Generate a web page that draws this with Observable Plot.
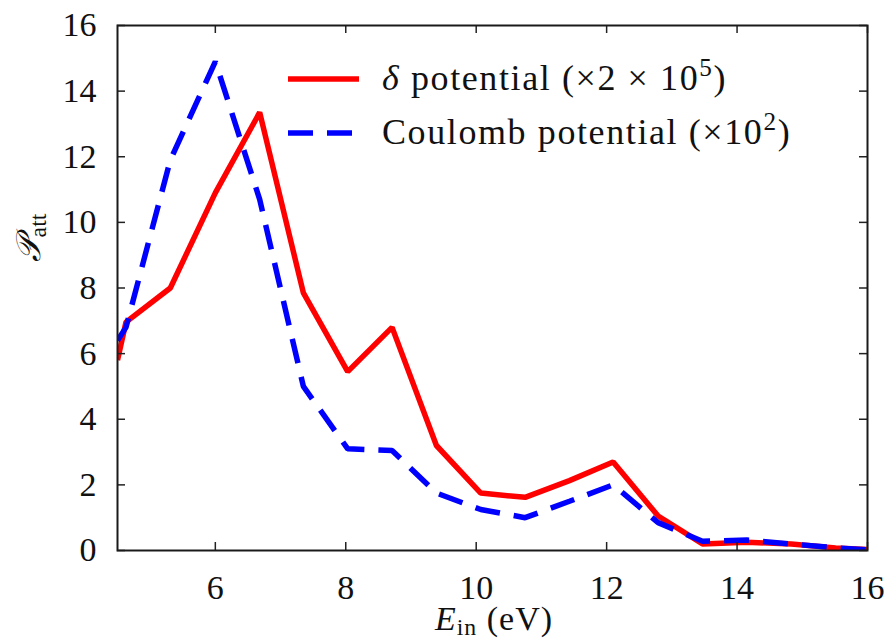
<!DOCTYPE html>
<html><head><meta charset="utf-8">
<script src="https://cdn.jsdelivr.net/npm/d3@7"></script>
<script src="https://cdn.jsdelivr.net/npm/@observablehq/plot@0.6"></script>
<style>html,body{margin:0;padding:0;background:#fff} svg{display:block}</style>
</head><body><div id="chart"></div>
<script>
// Data
const energy     = [4.5, 4.63, 5.31, 6.0, 6.68, 7.35, 8.03, 8.71, 9.39, 10.07, 10.75, 11.43, 12.1, 12.79, 13.47, 14.15, 14.83, 15.51, 16.0];
const deltaPot   = [5.8, 6.96, 8.0, 10.9, 13.35, 7.85, 5.45, 6.8, 3.2, 1.75, 1.62, 2.13, 2.7, 1.05, 0.2, 0.25, 0.2, 0.08, 0.03];
const coulombPot = [6.4, 6.8, 11.9, 14.9, 10.7, 5.0, 3.1, 3.05, 1.75, 1.25, 1.0, 1.5, 2.0, 0.85, 0.28, 0.32, 0.2, 0.08, 0.02];
const xTicks = [6, 8, 10, 12, 14, 16];
const yTicks = [0, 2, 4, 6, 8, 10, 12, 14, 16];
const seriesNames = ["δ potential", "Coulomb potential"];
const seriesColors = ["#ff0000", "#0000ff"];

const W = 888, H = 643, mL = 117, mR = 21, mT = 25, mB = 93;
const pw = W - mL - mR, ph = H - mT - mB;
const FONT = "'Liberation Serif', 'DejaVu Serif', serif";
const FS = 34;

const deltaRows = energy.map((e, i) => ({e, v: deltaPot[i], s: seriesNames[0]}));
const coulRows  = energy.map((e, i) => ({e, v: coulombPot[i], s: seriesNames[1]}));

const chart = Plot.plot({
  width: W, height: H,
  marginLeft: mL, marginRight: mR, marginTop: mT, marginBottom: mB,
  x: {domain: [4.5, 16]},
  y: {domain: [0, 16]},
  style: {fontFamily: FONT, fontSize: FS + "px", color: "#111", background: "white", overflow: "visible"},
  marks: [
    Plot.line(deltaRows, {x: "e", y: "v", stroke: seriesColors[0], strokeWidth: 5.5, strokeLinejoin: "miter", strokeLinecap: "butt", clip: true}),
    Plot.line(coulRows, {x: "e", y: "v", stroke: seriesColors[1], strokeWidth: 5.5, strokeDasharray: "25,14", strokeLinejoin: "miter", strokeLinecap: "butt", clip: true}),
    Plot.tickX(xTicks, {x: d => d, insetTop: ph - 8, stroke: "#222", strokeWidth: 1.5}),
    Plot.tickX(xTicks, {x: d => d, insetBottom: ph - 8, stroke: "#222", strokeWidth: 1.5}),
    Plot.tickY(yTicks, {y: d => d, insetRight: pw - 8, stroke: "#222", strokeWidth: 1.5}),
    Plot.tickY(yTicks, {y: d => d, insetLeft: pw - 8, stroke: "#222", strokeWidth: 1.5}),
    Plot.frame({stroke: "#1a1a1a", strokeWidth: 2}),
    Plot.axisX({ticks: xTicks, tickSize: 0, tickPadding: 24, label: null, fontSize: FS}),
    Plot.axisY({ticks: yTicks, tickSize: 0, tickPadding: 21, label: null, fontSize: FS})
  ]
});
document.getElementById("chart").appendChild(chart);

const svg = d3.select(chart);
// Legend
const LFS = 36;
const leg = svg.append("g").attr("font-family", FONT).attr("font-size", LFS).attr("fill", "#111")
  .attr("text-anchor", "start").attr("letter-spacing", "1.6px");
const rowsY = [79, 133];
leg.append("line").attr("x1", 288).attr("x2", 359).attr("y1", rowsY[0]).attr("y2", rowsY[0])
  .attr("stroke", seriesColors[0]).attr("stroke-width", 5.5);
leg.append("line").attr("x1", 288).attr("x2", 352).attr("y1", rowsY[1]).attr("y2", rowsY[1])
  .attr("stroke", seriesColors[1]).attr("stroke-width", 5.5).attr("stroke-dasharray", "25,14");
const t1 = leg.append("text").attr("x", 382).attr("y", rowsY[0] + 11);
t1.append("tspan").attr("font-style", "italic").text("δ");
t1.append("tspan").text(" potential (×2 × 10");
t1.append("tspan").attr("font-size", LFS * 0.7).attr("dy", -14).text("5");
t1.append("tspan").attr("dy", 14).text(")");
const t2 = leg.append("text").attr("x", 382).attr("y", rowsY[1] + 11);
t2.append("tspan").text("Coulomb potential (×10");
t2.append("tspan").attr("font-size", LFS * 0.7).attr("dy", -14).text("2");
t2.append("tspan").attr("dy", 14).text(")");

// X axis label
const xl = svg.append("text").attr("font-family", FONT).attr("font-size", FS).attr("fill", "#111")
  .attr("text-anchor", "middle").attr("x", mL + pw / 2 + 2).attr("y", 630).attr("letter-spacing", "1px");
xl.append("tspan").attr("font-style", "italic").text("E");
xl.append("tspan").attr("font-size", FS * 0.7).attr("dy", 5).text("in");
xl.append("tspan").attr("dy", -5).text(" (eV)");

// Y axis label
const yl = svg.append("text").attr("font-family", FONT).attr("font-size", FS).attr("fill", "#111")
  .attr("text-anchor", "middle").attr("transform", "translate(40,238) rotate(-90)");
yl.append("tspan").attr("font-style", "italic").text("𝒫");
yl.append("tspan").attr("font-size", FS * 0.7).attr("dy", 6).text("att");
</script>
</body></html>
